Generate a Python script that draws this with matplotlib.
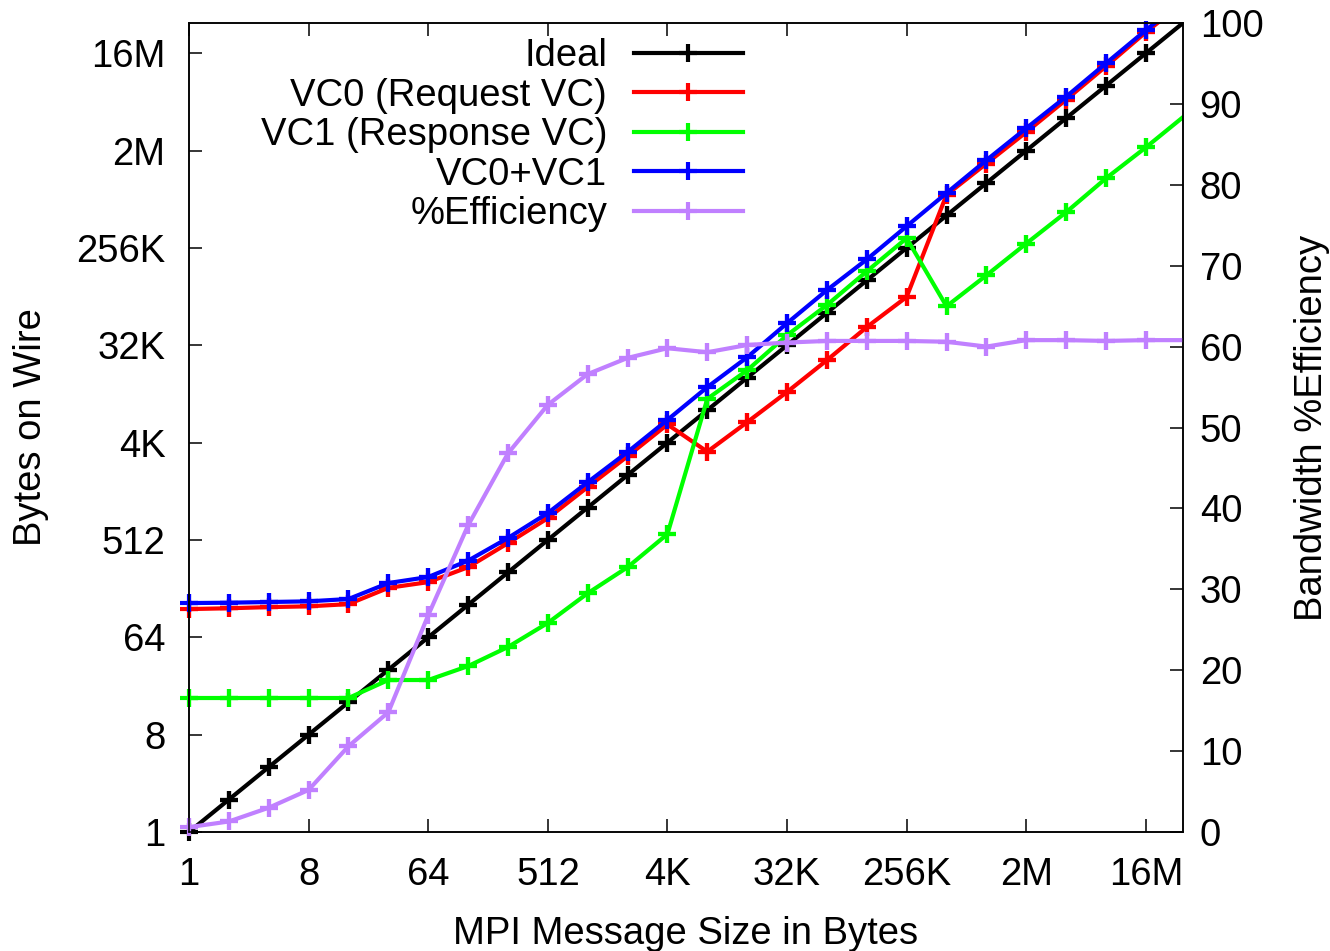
import numpy as np
import matplotlib
matplotlib.use("Agg")
import matplotlib.pyplot as plt
from matplotlib.ticker import FixedLocator, NullLocator

plt.rcParams["font.family"] = ["Liberation Sans", "DejaVu Sans"]

# message sizes 1 .. 32M bytes (powers of two)
msg_size = [2 ** k for k in range(26)]

ideal = list(msg_size)

vc0 = [117, 119, 122, 124, 130, 184, 208, 286, 478, 815,
       1585, 3061, 6038, 3373, 6338, 12077, 23820, 48300, 92000, 815000,
       1589000, 3109000, 6220000, 12700000, 26300000, 51500000]

vc1 = [17.5, 17.5, 17.5, 17.5, 17.5, 25.7, 25.7, 34.6, 52, 87,
       164, 286, 580, 10440, 19200, 40600, 77400, 159000, 322700, 75300,
       146000, 288000, 562000, 1160000, 2245000, 4490000]

vc_total = [133, 134, 136, 138, 145, 204, 232, 329, 534, 910,
            1758, 3350, 6650, 13400, 25350, 52500, 106400, 205000, 416700, 846000,
            1706000, 3380000, 6630000, 13530000, 27450000, 54500000]

efficiency = [0.6, 1.3, 3.0, 5.2, 10.6, 14.8, 26.8, 37.9, 46.8, 52.8,
              56.6, 58.6, 59.8, 59.3, 60.2, 60.5, 60.7, 60.7, 60.7, 60.6,
              60.0, 60.8, 60.8, 60.7, 60.8, 60.8]

tick_vals = [2 ** k for k in range(0, 25, 3)]
tick_labels = ["1", "8", "64", "512", "4K", "32K", "256K", "2M", "16M"]

FS = 27.5
LW = 3.0
MS = 13
RANGE = 3.2e7

fig = plt.figure(figsize=(13.3, 9.51), dpi=100)
ax = fig.add_axes([189 / 1330, 1 - 832 / 951, 994 / 1330, 809 / 951])
ax2 = ax.twinx()

x = np.array(msg_size, dtype=float)


def draw(axis, yvals, color, label, ymax):
    y = np.array(yvals, dtype=float)
    inside = (x <= RANGE) & (y <= ymax)
    # line clipped to the frame, markers only for points inside the range
    line, = axis.plot(x, y, color=color, lw=LW, marker="+", ms=MS, mew=LW,
                      markevery=list(np.where(inside)[0]), label=label)
    axis.plot(x[inside], y[inside], ls="none", color=color, marker="+",
              ms=MS, mew=LW, clip_on=False)
    return line


handles = []
handles.append(draw(ax, ideal, "black", "Ideal", RANGE))
handles.append(draw(ax, vc0, "#ff0000", "VC0 (Request VC)", RANGE))
handles.append(draw(ax, vc1, "#00ff00", "VC1 (Response VC)", RANGE))
handles.append(draw(ax, vc_total, "#0000ff", "VC0+VC1", RANGE))
handles.append(draw(ax2, efficiency, "#c080ff", "%Efficiency", 100))

ax.set_xscale("log", base=2)
ax.set_yscale("log", base=2)
ax.set_xlim(1, RANGE)
ax.set_ylim(1, RANGE)
ax.xaxis.set_major_locator(FixedLocator(tick_vals))
ax.yaxis.set_major_locator(FixedLocator(tick_vals))
ax.xaxis.set_minor_locator(NullLocator())
ax.yaxis.set_minor_locator(NullLocator())
ax.set_xticklabels(tick_labels)
ax.set_yticklabels(tick_labels)

ax2.set_ylim(0, 100)
ax2.set_yticks(range(0, 101, 10))

ax.tick_params(axis="both", direction="in", length=9.5, width=1.1,
               labelsize=FS, pad=17)
ax.tick_params(axis="x", top=True, pad=18)
ax.tick_params(axis="y", right=False)
ax2.tick_params(axis="y", direction="in", length=9.5, width=1.1,
                labelsize=FS, pad=12)

for a in (ax, ax2):
    for s in a.spines.values():
        s.set_linewidth(1.1)

ax.set_xlabel("MPI Message Size in Bytes", fontsize=FS)
ax.set_ylabel("Bytes on Wire", fontsize=FS)
ax2.set_ylabel("Bandwidth %Efficiency", fontsize=FS)
ax.xaxis.set_label_coords(0.5, -0.104)
ax.yaxis.set_label_coords(-0.141, 0.5)
ax2.yaxis.set_label_coords(1.112, 0.5)

ax2.legend(handles=handles, loc="upper right", bbox_to_anchor=(0.557, 0.981),
           frameon=False, markerfirst=False, fontsize=FS, numpoints=1,
           handlelength=2.85, handletextpad=0.7, labelspacing=0.09,
           borderpad=0, borderaxespad=0)

fig.savefig("out.png", dpi=100)
